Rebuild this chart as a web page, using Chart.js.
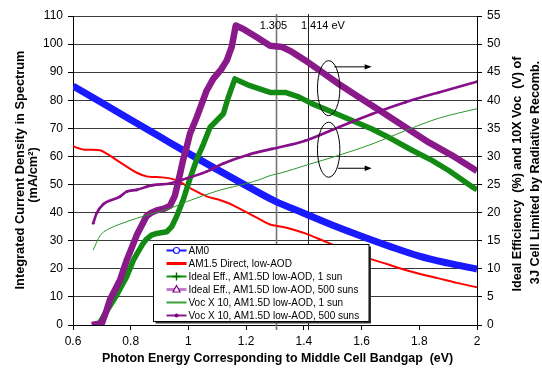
<!DOCTYPE html>
<html><head><meta charset="utf-8">
<script src="https://cdn.jsdelivr.net/npm/chart.js@4/dist/chart.umd.min.js"></script>
<style>html,body{margin:0;padding:0;background:#fff;}canvas{display:block;}</style>
</head><body>
<canvas id="c" width="542" height="368"></canvas>
<script>
// ---------- data ----------
const seriesNames = [
  "AM0",
  "AM1.5 Direct, low-AOD",
  "Ideal Eff., AM1.5D low-AOD, 1 sun",
  "Ideal Eff., AM1.5D low-AOD, 500 suns",
  "Voc X 10, AM1.5D low-AOD, 1 sun",
  "Voc X 10, AM1.5D low-AOD, 500 suns"
];
// left axis (mA/cm2)
const am0E = [0.6,0.7,0.8,0.9,1.0,1.1,1.2,1.3,1.4,1.5,1.6,1.7,1.8,1.9,2.0];
const am0V = [85.1,79.1,73.1,67.1,61.1,55.3,49.6,44.1,39.8,35.5,31.6,27.9,24.5,22.0,19.9];
const am15E = [0.60,0.62,0.64,0.67,0.694,0.72,0.75,0.786,0.821,0.855,0.878,0.901,0.936,0.971,0.994,1.017,1.063,1.109,1.133,1.155,1.202,1.248,1.283,1.324,1.365,1.405,1.474,1.55,1.625,1.69,1.752,1.81,1.867,1.93,2.0];
const am15V = [63.7,62.9,62.4,62.4,62.2,60.8,58.8,56.4,54.2,52.9,52.7,52.6,52.2,51.0,49.4,48.1,45.8,44.5,43.6,42.6,40.1,37.6,35.8,35.0,33.9,32.6,29.7,26.6,23.7,21.6,19.6,18.0,16.6,15.0,13.4];
// right axis (% efficiency, 10 x Voc in V)
const eff1E = [0.670,0.690,0.705,0.751,0.786,0.809,0.821,0.844,0.855,0.872,0.890,0.925,0.942,0.959,0.982,1.005,1.029,1.052,1.075,1.098,1.121,1.138,1.161,1.213,1.283,1.336,1.382,1.428,1.498,1.567,1.636,1.705,1.775,1.844,1.902,1.983,2.0];
const eff1V = [0,0.2,1.5,5.3,8.6,11.5,12.6,14.6,15.3,16.0,16.3,16.6,17.5,19.3,22.3,26.0,29.5,32.2,35.2,36.4,37.6,40.5,43.8,42.6,41.4,41.4,40.6,39.4,37.9,36.4,34.9,33.1,31.1,29.3,27.5,24.6,24.1];
const eff500E = [0.665,0.700,0.717,0.728,0.763,0.786,0.821,0.855,0.872,0.890,0.915,0.936,0.953,0.971,0.982,0.994,1.005,1.029,1.063,1.086,1.115,1.133,1.150,1.164,1.190,1.237,1.283,1.324,1.359,1.405,1.463,1.521,1.590,1.671,1.752,1.833,1.913,2.0];
const eff500V = [0,0.3,2.7,4.5,8.0,11.5,16.0,19.4,20.0,20.4,20.7,21.2,23.0,26.9,29.5,31.7,34.0,37.0,41.7,43.8,45.6,47.1,49.5,53.3,52.7,51.2,49.7,49.5,48.6,47.1,45.0,42.9,40.6,37.9,35.2,32.5,30.2,27.4];
const voc1E = [0.670,0.694,0.728,0.760,0.821,0.880,0.936,0.994,1.05,1.109,1.202,1.248,1.283,1.324,1.405,1.521,1.636,1.752,1.867,2.0];
const voc1V = [13.35,15.9,17.2,17.9,19.0,19.9,20.75,21.95,23.0,24.0,25.2,25.9,26.6,27.1,28.4,30.2,32.2,34.6,36.8,38.5];
const voc500E = [0.670,0.682,0.705,0.763,0.786,0.821,0.855,0.878,0.936,0.994,1.063,1.121,1.213,1.290,1.405,1.521,1.636,1.752,1.867,2.0];
const voc500V = [18.1,19.9,21.5,22.85,23.75,24.05,24.6,24.9,25.2,26.1,27.3,28.75,30.4,31.35,32.8,35.2,37.55,39.65,41.4,43.3];

const xTicks = [0.6,0.8,1.0,1.2,1.4,1.6,1.8,2.0];
const xTickLabels = ["0.6","0.8","1","1.2","1.4","1.6","1.8","2"];
const yLeftTicks = [0,10,20,30,40,50,60,70,80,90,100,110];
const yRightTicks = [0,5,10,15,20,25,30,35,40,45,50,55];
const refEnergies = [1.305, 1.414];
const refLabels = ["1.305", "1.414 eV"];

const xTitle = "Photon Energy Corresponding to Middle Cell Bandgap  (eV)";
const yLeftTitle = ["Integrated Current Density in Spectrum", "(mA/cm\u00B2)"];
const yRightTitle = ["Ideal Efficiency  (%) and 10X Voc  (V) of", "3J Cell Limited by Radiative Recomb."];

// ---------- chart ----------
const FONT = '"Liberation Sans", Arial, Helvetica, sans-serif';
const pts = (E, V) => E.map((e, i) => ({x: e, y: V[i]}));

const styles = [
  {color:'#1a1aff', width:7, axis:'y', mode:'monotone'},
  {color:'#ff0000', width:2, axis:'y', mode:'monotone'},
  {color:'#138a13', width:5.5, axis:'y2', mode:'default'},
  {color:'#8a1a8a', width:6.5, axis:'y2', mode:'default'},
  {color:'#2a962a', width:1, axis:'y2', mode:'monotone'},
  {color:'#86108a', width:2.6, axis:'y2', mode:'monotone'}
];
const dataSeries = [pts(am0E, am0V), pts(am15E, am15V), pts(eff1E, eff1V), pts(eff500E, eff500V), pts(voc1E, voc1V), pts(voc500E, voc500V)];

const datasets = dataSeries.map((d, i) => ({
  label: seriesNames[i],
  data: d,
  yAxisID: styles[i].axis,
  borderColor: styles[i].color,
  backgroundColor: styles[i].color,
  borderWidth: styles[i].width,
  pointRadius: i === 5 ? 1.4 : 0,
  pointBackgroundColor: styles[i].color,
  pointBorderWidth: 0,
  cubicInterpolationMode: styles[i].mode,
  tension: 0,
  fill: false,
  order: 10 - i,
  borderJoinStyle: 'round',
  borderCapStyle: 'butt'
}));

function drawArrow(ctx, x1, y, x2) {
  ctx.beginPath(); ctx.moveTo(x1, y); ctx.lineTo(x2 - 6, y); ctx.stroke();
  ctx.beginPath(); ctx.moveTo(x2, y); ctx.lineTo(x2 - 7, y - 2.7); ctx.lineTo(x2 - 7, y + 2.7); ctx.closePath(); ctx.fill();
}

const decor = {
  id: 'decor',
  beforeDatasetsDraw(chart) {
    const {ctx, scales:{x}} = chart;
    ctx.save();
    const cols = ['#777', '#222'];
    const wid = [1.6, 1];
    refEnergies.forEach((e, i) => {
      const px = Math.round(x.getPixelForValue(e)) + 0.5;
      ctx.strokeStyle = cols[i]; ctx.lineWidth = wid[i];
      ctx.beginPath(); ctx.moveTo(px, 14); ctx.lineTo(px, 330); ctx.stroke();
    });
    ctx.restore();
  },
  afterDraw(chart) {
    const {ctx, scales:{x, y}} = chart;
    ctx.save();
    ctx.fillStyle = '#000';
    // reference labels
    ctx.font = '11px ' + FONT; ctx.textBaseline = 'middle';
    const p0 = x.getPixelForValue(refEnergies[0]);
    const p1 = x.getPixelForValue(refEnergies[1]);
    ctx.textAlign = 'center'; ctx.fillText(refLabels[0], p0 - 3, 26);
    ctx.textAlign = 'left'; ctx.fillText(refLabels[1], p1 - 7, 26);

    // ellipses + arrows
    ctx.strokeStyle = '#000'; ctx.lineWidth = 1;
    const ex = x.getPixelForValue(1.486);
    [84.3, 62.4].forEach(v => {
      const ey = y.getPixelForValue(v);
      ctx.beginPath(); ctx.ellipse(ex, ey, 11.2, 27.5, 0, 0, Math.PI * 2); ctx.stroke();
    });
    drawArrow(ctx, x.getPixelForValue(1.5055), y.getPixelForValue(91.9), x.getPixelForValue(1.635));
    drawArrow(ctx, x.getPixelForValue(1.518), y.getPixelForValue(55.8), x.getPixelForValue(1.635));

    // axis titles
    ctx.font = 'bold 12.4px ' + FONT; ctx.textAlign = 'center'; ctx.textBaseline = 'middle';
    ctx.fillText(xTitle, 277.5, 359);
    ctx.font = 'bold 12.8px ' + FONT;
    ctx.save(); ctx.translate(20, 170); ctx.rotate(-Math.PI/2); ctx.fillText(yLeftTitle[0], 0, 0); ctx.restore();
    ctx.save(); ctx.translate(33, 175); ctx.rotate(-Math.PI/2); ctx.fillText(yLeftTitle[1], 0, 0); ctx.restore();
    ctx.font = 'bold 12.6px ' + FONT;
    ctx.save(); ctx.translate(518, 174); ctx.rotate(-Math.PI/2); ctx.fillText(yRightTitle[0], 0, 0); ctx.restore();
    ctx.save(); ctx.translate(536, 172.5); ctx.rotate(-Math.PI/2); ctx.fillText(yRightTitle[1], 0, 0); ctx.restore();

    // legend
    const L = 153.5, T = 244.5, W = 215.5, H = 77;
    ctx.fillStyle = '#333'; ctx.fillRect(L + 2, T + 2, W, H);
    ctx.fillStyle = '#fff'; ctx.fillRect(L, T, W, H);
    ctx.strokeStyle = '#000'; ctx.lineWidth = 1; ctx.strokeRect(L, T, W, H);
    const lx0 = 166.5, lx1 = 186.5, mx = 176.5, tx = 188.5;
    const legLine = ['#1a1aff', '#ff0000', '#119011', '#c07ccc', '#3aa03a', '#8a1a8a'];
    const legW = [2, 3, 2, 3, 2, 2];
    ctx.font = '10px ' + FONT; ctx.textAlign = 'left'; ctx.textBaseline = 'middle';
    seriesNames.forEach((name, i) => {
      const ry = 250.5 + i * 13;
      ctx.strokeStyle = legLine[i]; ctx.lineWidth = legW[i];
      ctx.beginPath(); ctx.moveTo(lx0, ry); ctx.lineTo(lx1, ry); ctx.stroke();
      ctx.lineWidth = 1.2;
      if (i === 0) {
        ctx.fillStyle = '#fff'; ctx.strokeStyle = '#1a1aff';
        ctx.beginPath(); ctx.arc(mx, ry, 3, 0, Math.PI*2); ctx.fill(); ctx.stroke();
      } else if (i === 2) {
        ctx.strokeStyle = '#006400'; ctx.lineWidth = 1.4;
        ctx.beginPath(); ctx.moveTo(mx - 4, ry); ctx.lineTo(mx + 4, ry); ctx.moveTo(mx, ry - 4); ctx.lineTo(mx, ry + 4); ctx.stroke();
      } else if (i === 3) {
        ctx.fillStyle = '#fff'; ctx.strokeStyle = '#800080';
        ctx.beginPath(); ctx.moveTo(mx, ry - 4); ctx.lineTo(mx + 3.5, ry + 2.5); ctx.lineTo(mx - 3.5, ry + 2.5); ctx.closePath(); ctx.fill(); ctx.stroke();
      } else if (i === 5) {
        ctx.fillStyle = '#800080';
        ctx.beginPath(); ctx.arc(mx, ry, 2, 0, Math.PI*2); ctx.fill();
      }
      ctx.fillStyle = '#000';
      ctx.fillText(name, tx, ry + 0.5);
    });
    ctx.restore();
  }
};

const tickFont = {family: FONT, size: 12};
new Chart(document.getElementById('c'), {
  type: 'line',
  data: {datasets},
  options: {
    responsive: false,
    animation: false,
    devicePixelRatio: 1,
    layout: {padding: {top: 16, left: 0, right: 0, bottom: 0}},
    plugins: {legend: {display: false}, tooltip: {enabled: false}, title: {display: false}},
    scales: {
      x: {
        type: 'linear', min: 0.6, max: 2.0,
        afterBuildTicks: ax => { ax.ticks = xTicks.map(v => ({value: v})); },
        afterFit: s => { s.height = 43; },
        ticks: {font: tickFont, color: '#000', padding: 4, maxRotation: 0, autoSkip: false,
                callback: (v, i) => xTickLabels[i]},
        grid: {drawOnChartArea: false, drawTicks: true, tickLength: 5, color: '#000'},
        border: {display: true, color: '#000', width: 1}
      },
      y: {
        position: 'left', min: 0, max: 110,
        afterBuildTicks: ax => { ax.ticks = yLeftTicks.map(v => ({value: v})); },
        afterFit: s => { s.width = 73; },
        ticks: {font: tickFont, color: '#000', padding: 5, callback: v => String(v)},
        grid: {color: '#3a3a3a', tickColor: '#000', tickLength: 5, lineWidth: 1},
        border: {display: true, color: '#000', width: 1}
      },
      y2: {
        position: 'right', min: 0, max: 55,
        afterBuildTicks: ax => { ax.ticks = yRightTicks.map(v => ({value: v})); },
        afterFit: s => { s.width = 65; },
        ticks: {font: tickFont, color: '#000', padding: 5, callback: v => String(v)},
        grid: {drawOnChartArea: false, tickLength: 5, color: '#000'},
        border: {display: true, color: '#000', width: 1}
      }
    }
  },
  plugins: [decor]
});
</script>
</body></html>
